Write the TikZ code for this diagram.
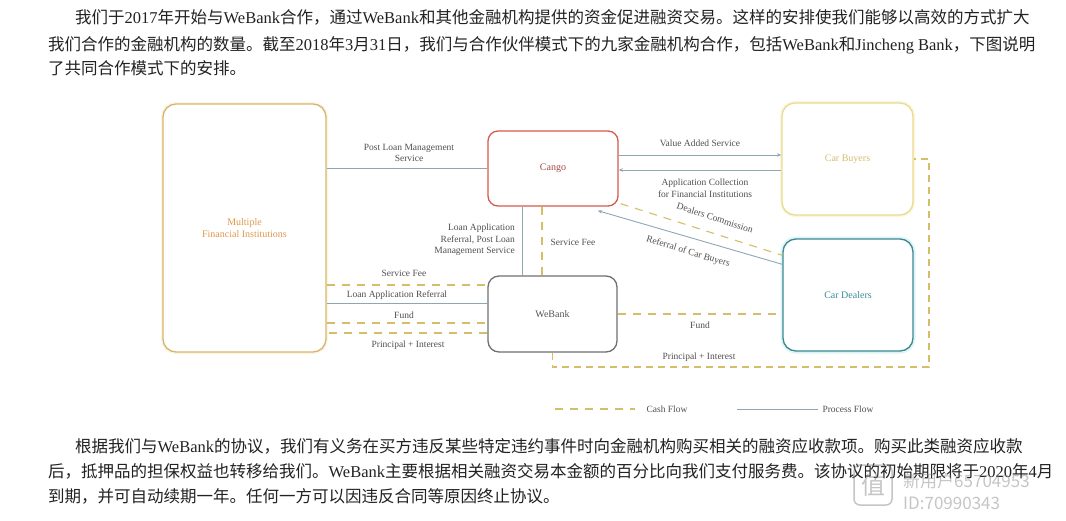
\documentclass[tikz,border=0pt]{standalone}
\usepackage{fontspec}
\setmainfont{Liberation Serif}
\newfontfamily\cjk{Noto Sans CJK SC}
\usetikzlibrary{arrows.meta}
\definecolor{mfic}{HTML}{D8B56E}
\definecolor{mfit}{HTML}{E0974A}
\definecolor{cangoc}{HTML}{D65A4C}
\definecolor{cangot}{HTML}{A84848}
\definecolor{buyc}{HTML}{E9DC8C}
\definecolor{buyt}{HTML}{D2BE72}
\definecolor{dealc}{HTML}{3C8891}
\definecolor{dealt}{HTML}{3C8C96}
\definecolor{dealg}{HTML}{DDF3F5}
\definecolor{yelg}{HTML}{FBF6E2}
\definecolor{webc}{HTML}{707070}
\definecolor{webt}{HTML}{555555}
\definecolor{procc}{HTML}{8EA7B6}
\definecolor{cashc}{HTML}{D4BE6A}
\definecolor{lblc}{HTML}{505050}
\definecolor{parac}{HTML}{222222}
\newcommand\latn[1]{{\rmfamily #1}}
\tikzset{
  bx/.style={draw, rounded corners=13pt, line width=1.3pt, align=center,
    font=\fontsize{10}{12}\selectfont, inner sep=0pt, fill=white},
  proc/.style={draw=procc, line width=0.9pt},
  cash/.style={draw=cashc, line width=1.1pt, dash pattern=on 8pt off 7pt},
  lbl/.style={font=\fontsize{9.5}{11.5}\selectfont, text=lblc, align=center, inner sep=1pt},
  tipa/.style={-{Stealth[length=4.5pt,width=3.5pt]}},
  para/.style={anchor=base west, inner sep=0pt, text=parac, font=\cjk\fontsize{16.5}{20}\selectfont},
  wm/.style={text=gray, opacity=0.45, inner sep=0pt, font=\cjk\fontsize{17}{20}\selectfont},
}
\begin{document}
\begin{tikzpicture}[x=1pt,y=-1pt]
\useasboundingbox[fill=white] (0,0) rectangle (1066,520);

% paragraphs
\node[para] (p1) at (75,23) {我们于\latn{2017}年开始与\latn{WeBank}合作，通过\latn{WeBank}和其他金融机构提供的资金促进融资交易。这样的安排使我们能够以高效的方式扩大};
\node[para] (p2) at (48,50) {我们合作的金融机构的数量。截至\latn{2018}年\latn{3}月\latn{31}日，我们与合作伙伴模式下的九家金融机构合作，包括\latn{WeBank}和\latn{Jincheng Bank}，下图说明};
\node[para] (p3) at (48,74) {了共同合作模式下的安排。};
\node[para] (q1) at (75,452) {根据我们与\latn{WeBank}的协议，我们有义务在买方违反某些特定违约事件时向金融机构购买相关的融资应收款项。购买此类融资应收款};
\node[para] (q2) at (48,477) {后，抵押品的担保权益也转移给我们。\latn{WeBank}主要根据相关融资交易本金额的百分比向我们支付服务费。该协议的初始期限将于\latn{2020}年\latn{4}月};
\node[para] (q3) at (48,502) {到期，并可自动续期一年。任何一方可以因违反合同等原因终止协议。};

% boxes
\node[bx, draw=mfic, text=mfit, minimum width=163pt, minimum height=248pt,
  preaction={draw=yelg, line width=4pt}] (mfi) at (244.5,228) {Multiple\\Financial Institutions};
\node[bx, draw=cangoc, text=cangot, rounded corners=10pt, minimum width=130pt, minimum height=75pt] (cango) at (553,168.5) {Cango};
\node[bx, draw=buyc, text=buyt, minimum width=131pt, minimum height=112pt,
  preaction={draw=yelg, line width=4pt}] (buyers) at (847.5,159) {Car Buyers};
\node[bx, draw=dealc, text=dealt, minimum width=130pt, minimum height=112pt,
  preaction={draw=dealg, line width=5pt}] (dealers) at (848,295) {Car Dealers};
\node[bx, draw=webc, text=webt, rounded corners=11pt, minimum width=129pt, minimum height=76pt] (webank) at (552.5,314) {WeBank};

% MFI - Cango
\draw[proc] (mfi.east |- cango.west) -- (cango.west);
\node[lbl] (l1) at (409,153) {Post Loan Management\\Service};

% Cango - Car Buyers
\draw[proc,tipa] ([yshift=13.5pt]cango.east) -- ([yshift=13.5pt]cango.east -| buyers.west);
\draw[proc,tipa] ([yshift=-1.5pt]cango.east -| buyers.west) -- ([yshift=-1.5pt]cango.east);
\node[lbl] (l2) at (700,143) {Value Added Service};
\node[lbl] (l3) at (705,188) {Application Collection\\for Financial Institutions};

% Cango - WeBank
\draw[proc] ([xshift=-31pt]cango.south) -- ([xshift=-31pt]cango.south |- webank.north);
\draw[cash] ([xshift=-11pt]cango.south) -- ([xshift=-11pt]cango.south |- webank.north);
\node[lbl, anchor=east, align=right] (l4) at (516,240) {Loan Application\\Referral, Post Loan\\Management Service};
\node[lbl] (l5) at (573,242) {Service Fee};

% Cango - Car Dealers
\draw[cash] ([xshift=2pt,yshift=3pt]cango.south east) -- ([yshift=-17pt]dealers.north west);
\draw[proc,tipa] ([yshift=-26pt]dealers.north west) -- ([xshift=-21pt,yshift=-4pt]cango.south east);
\node[lbl, rotate=-18] (l6) at (715,218) {Dealers Commission};
\node[lbl, rotate=-17] (l7) at (688,252) {Referral of Car Buyers};

% MFI - WeBank
\draw[cash] ([yshift=29pt]webank.west -| mfi.east) -- ([yshift=29pt]webank.west);
\draw[proc] ([yshift=11pt]webank.west) -- ([yshift=11pt]webank.west -| mfi.east);
\draw[cash] ([yshift=-9pt]webank.west -| mfi.east) -- ([yshift=-9pt]webank.west);
\draw[cash] ([yshift=-19pt]webank.west) -- ([yshift=-19pt]webank.west -| mfi.east);
\node[lbl] (l8) at (404,273) {Service Fee};
\node[lbl] (l9) at (397,295) {Loan Application Referral};
\node[lbl] (l10) at (404,315) {Fund};
\node[lbl] (l11) at (408,345) {Principal + Interest};

% WeBank - Car Dealers
\draw[cash] (webank.east) -- (webank.east -| dealers.west);
\node[lbl] (l12) at (700,325) {Fund};

% Principal + Interest loop
\coordinate (pic) at (929,367);
\draw[cash, dash pattern=on 7pt off 5pt] (webank.south) |- (pic) |- (buyers.east);
\node[lbl] (l13) at (699,357) {Principal + Interest};

% legend
\coordinate (c1) at (555,409);
\coordinate (c2) at (635,409);
\coordinate (c3) at (737,409);
\coordinate (c4) at (818,409);
\draw[cash] (c1) -- (c2);
\draw[proc] (c3) -- (c4);
\node[lbl] (lg1) at (667,409) {Cash Flow};
\node[lbl] (lg2) at (848,409) {Process Flow};

% watermark
\node[draw=gray, opacity=0.45, line width=1.5pt, rounded corners=6pt, minimum width=38pt, minimum height=40pt,
  text=gray, font=\cjk\fontsize{24}{24}\selectfont] (wlogo) at (873,485) {值};
\node[wm, anchor=west] (w1) at (903,481) {新用户65704953};
\node[wm, anchor=west] (w2) at (903,503) {ID:70990343};
\end{tikzpicture}
\end{document}
